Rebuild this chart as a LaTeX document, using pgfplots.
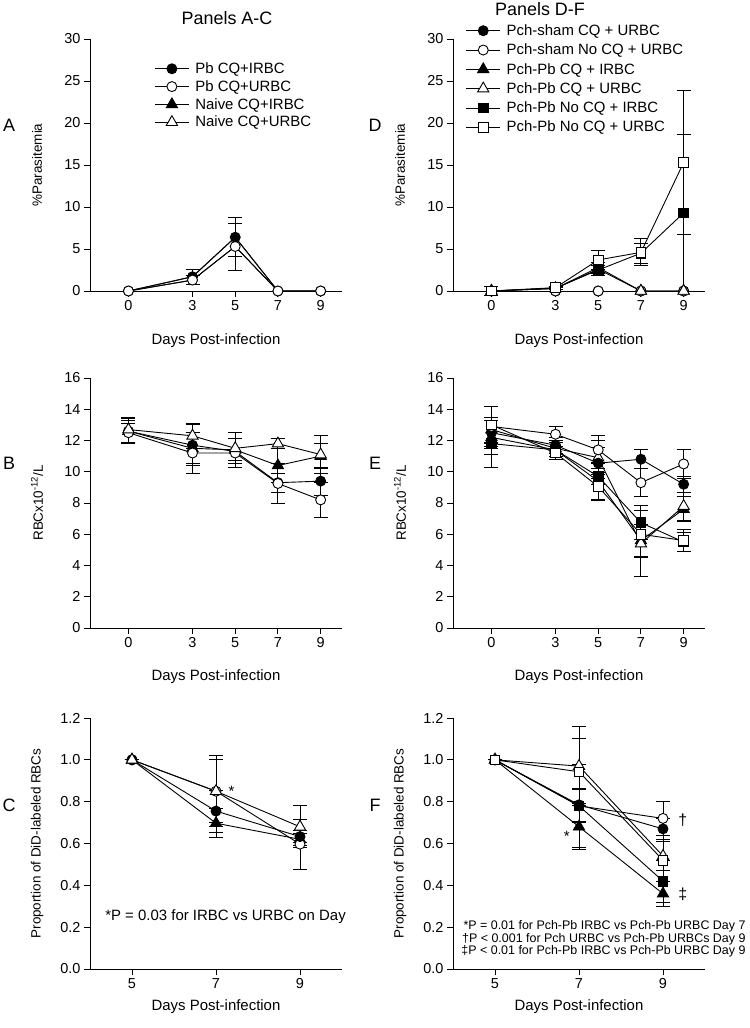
\documentclass[border=0pt]{standalone}
\usepackage{fontspec}
\setmainfont{Liberation Sans}
\usepackage{pgfplots}
\pgfplotsset{compat=1.18}
\newcommand{\fsz}[1]{\fontsize{#1}{#1}\selectfont}
\tikzset{
  fcirc/.style={black, line width=0.9bp, mark=*, mark size=5bp, mark options={solid, fill=black}},
  ocirc/.style={black, line width=0.9bp, mark=*, mark size=5bp, mark options={solid, fill=white}},
  ftri/.style={black, line width=0.9bp, mark=triangle*, mark size=6.5bp, mark options={solid, fill=black}},
  otri/.style={black, line width=0.9bp, mark=triangle*, mark size=6.5bp, mark options={solid, fill=white}},
  fsq/.style={black, line width=0.9bp, mark=square*, mark size=4.8bp, mark options={solid, fill=black}},
  osq/.style={black, line width=0.9bp, mark=square*, mark size=4.8bp, mark options={solid, fill=white}},
}
\pgfplotsset{
  panel/.style={
    scale only axis, width=252bp,
    axis lines=left,
    axis line style={-, line width=0.9bp},
    tick align=outside,
    major tick length=6bp,
    every tick/.style={black, line width=0.9bp},
    xticklabel style={font=\fsz{14.5}},
    yticklabel style={font=\fsz{14.5}},
    /pgf/number format/assume math mode=true,
    xticklabel={\pgfmathprintnumber{\tick}},
    yticklabel={\pgfmathprintnumber{\tick}},
    clip=false,
    error bars/y dir=both, error bars/y explicit,
    error bars/error bar style={line width=0.9bp, solid},
    error bars/error mark options={rotate=90, mark size=7bp, line width=0.9bp, solid},
    legend image code/.code={\draw[mark repeat=2,mark phase=2] plot coordinates {(0bp,0bp)(17bp,0bp)(34bp,0bp)};},
    legend cell align=left,
    xlabel={Days Post-infection},
    every axis x label/.style={at={(axis description cs:0.5,-0.195)}, anchor=center, font=\fsz{15}},
    every axis y label/.style={at={(axis description cs:-0.21,0.5)}, rotate=90, anchor=center, font=\fsz{13.5}},
  },
  toprow/.style={panel, height=252bp, xmin=-1.8, xmax=10, ymin=0, ymax=30, xtick={0,3,5,7,9}, ytick={0,5,...,30}, ylabel={\%Parasitemia}},
  midrow/.style={panel, height=250bp, xmin=-1.8, xmax=10, ymin=0, ymax=16, xtick={0,3,5,7,9}, ytick={0,2,...,16}, ylabel={RBCx10\textsuperscript{-12}/L}},
  botrow/.style={panel, height=251bp, xmin=4, xmax=10, ymin=0, ymax=1.2, xtick={5,7,9}, ytick={0,0.2,...,1.2},
     yticklabel style={/pgf/number format/.cd, fixed, fixed zerofill, precision=1},
     every axis x label/.style={at={(axis description cs:0.5,-0.151)}, anchor=center, font=\fsz{15}},
     ylabel={Proportion of DiD-labeled RBCs}},
}
\begin{document}
\begin{tikzpicture}
\path[use as bounding box] (0,0) rectangle (750bp,-1028bp);

% titles and panel letters
\node[font=\fsz{18}] at (227bp,-18bp) {Panels A-C};
\node[font=\fsz{18}] at (540bp,-9bp) {Panels D-F};
\node[font=\fsz{18}] at (9bp,-125bp) {A};
\node[font=\fsz{18}] at (9bp,-463bp) {B};
\node[font=\fsz{18}] at (9bp,-805bp) {C};
\node[font=\fsz{18}] at (375bp,-125bp) {D};
\node[font=\fsz{18}] at (375bp,-463bp) {E};
\node[font=\fsz{18}] at (375bp,-805bp) {F};

% ---------------- Panel A ----------------
\begin{axis}[toprow, at={(90bp,-291bp)}, anchor=south west,
  legend style={draw=none, fill=none, at={(axis description cs:0.255,0.915)}, anchor=north west,
    font=\fsz{15}, inner sep=0pt, row sep=1.5bp, column sep=4bp}]
\addlegendimage{fcirc}\addlegendentry{Pb CQ+IRBC}
\addlegendimage{ocirc}\addlegendentry{Pb CQ+URBC}
\addlegendimage{ftri}\addlegendentry{Naive CQ+IRBC}
\addlegendimage{otri}\addlegendentry{Naive CQ+URBC}
\addplot[ftri, mark size=3.5bp, forget plot] coordinates {(0,0) (3,1.7) (5,6.4) (7,0) (9,0)};
\addplot[otri, mark size=3.5bp, forget plot] coordinates {(0,0) (3,1.3) (5,5.3) (7,0) (9,0)};
\addplot[fcirc, forget plot] coordinates {(0,0) +- (0,0) (3,1.7) +- (0,0.9) (5,6.4) +- (0,2.3) (7,0) +- (0,0) (9,0) +- (0,0)};
\addplot[ocirc, forget plot] coordinates {(0,0) +- (0,0) (3,1.3) +- (0,0.5) (5,5.3) +- (0,2.8) (7,0) +- (0,0) (9,0) +- (0,0)};
\end{axis}

% ---------------- Panel D ----------------
\begin{axis}[toprow, at={(453bp,-291bp)}, anchor=south west,
  legend style={draw=none, fill=none, at={(axis description cs:0.05,1.066)}, anchor=north west,
    font=\fsz{15}, inner sep=0pt, row sep=3bp, column sep=4bp}]
\addlegendimage{fcirc}\addlegendentry{Pch-sham CQ + URBC}
\addlegendimage{ocirc}\addlegendentry{Pch-sham No CQ + URBC}
\addlegendimage{ftri}\addlegendentry{Pch-Pb CQ + IRBC}
\addlegendimage{otri}\addlegendentry{Pch-Pb CQ + URBC}
\addlegendimage{fsq}\addlegendentry{Pch-Pb No CQ + IRBC}
\addlegendimage{osq}\addlegendentry{Pch-Pb No CQ + URBC}
\addplot[fcirc, forget plot] coordinates {(0,0) (3,0) (5,0) (7,0) (9,0)};
\addplot[ocirc, forget plot] coordinates {(0,0) (3,0) (5,0) (7,0) (9,0)};
\addplot[ftri, forget plot] coordinates {(0,0) (3,0.3) +- (0,0.1) (5,2.6) +- (0,0.5) (7,0) (9,0)};
\addplot[otri, forget plot] coordinates {(0,0) (3,0.3) (5,2.8) +- (0,0.6) (7,0) (9,0)};
\addplot[fsq, forget plot] coordinates {(0,0) (3,0.35) +- (0,0.2) (5,2.5) +- (0,0.6) (7,4.5) +- (0,1.2) (9,9.3) +- (0,9.3)};
\addplot[osq, forget plot] coordinates {(0,0) +- (0,0.5) (3,0.4) +- (0,0.2) (5,3.7) +- (0,1.1) (7,4.6) +- (0,1.6) (9,15.3) +- (0,8.6)};
\end{axis}

% ---------------- Panel B ----------------
\begin{axis}[midrow, at={(90bp,-628bp)}, anchor=south west]
\addplot[fcirc] coordinates {(0,12.6) +- (0,0.8) (3,11.7) +- (0,1.3) (5,11.3) +- (0,0.8) (7,9.3) +- (0,0.6) (9,9.4) +- (0,0.9)};
\addplot[ftri] coordinates {(0,12.6) +- (0,0.7) (3,11.5) +- (0,1.0) (5,11.4) +- (0,0.7) (7,10.4) +- (0,1.1) (9,11.0) +- (0,0.8)};
\addplot[ocirc] coordinates {(0,12.5) +- (0,0.6) (3,11.2) +- (0,1.3) (5,11.2) +- (0,0.9) (7,9.25) +- (0,1.3) (9,8.2) +- (0,1.1)};
\addplot[otri] coordinates {(0,12.7) +- (0,0.8) (3,12.3) +- (0,0.8) (5,11.5) +- (0,1.0) (7,11.8) +- (0,0.3) (9,11.1) +- (0,1.2)};
\end{axis}

% ---------------- Panel E ----------------
\begin{axis}[midrow, at={(453bp,-628bp)}, anchor=south west]
\addplot[ftri] coordinates {(0,12.2) +- (0,1.1) (3,11.4) +- (0,0.6) (5,9.4) +- (0,1.2) (7,5.6) +- (0,1.0) (9,7.6) +- (0,0.8)};
\addplot[otri] coordinates {(0,12.7) +- (0,0.8) (3,11.5) +- (0,0.5) (5,10.9) +- (0,1.1) (7,5.4) +- (0,2.1) (9,7.8) +- (0,0.9)};
\addplot[fcirc] coordinates {(0,12.5) +- (0,1.0) (3,11.7) +- (0,0.5) (5,10.55) +- (0,1.0) (7,10.8) +- (0,0.6) (9,9.2) +- (0,0.5)};
\addplot[ocirc] coordinates {(0,12.9) +- (0,1.3) (3,12.4) +- (0,0.5) (5,11.4) +- (0,0.9) (7,9.3) +- (0,0.9) (9,10.5) +- (0,0.9)};
\addplot[fsq] coordinates {(0,11.8) +- (0,1.5) (3,11.4) +- (0,0.6) (5,9.7) +- (0,0.5) (7,6.74) +- (0,1.1) (9,5.5) +- (0,0.6)};
\addplot[osq] coordinates {(0,13.0) +- (0,1.2) (3,11.2) +- (0,0.4) (5,9.05) +- (0,0.9) (7,6.0) +- (0,1.5) (9,5.6) +- (0,0.7)};
\end{axis}

% ---------------- Panel C ----------------
\begin{axis}[botrow, at={(90bp,-969bp)}, anchor=south west]
\addplot[ftri] coordinates {(5,1.0) +- (0,0) (7,0.697) +- (0,0.07) (9,0.62) +- (0,0.03)};
\addplot[ocirc] coordinates {(5,1.0) +- (0,0) (7,0.85) +- (0,0.15) (9,0.597) +- (0,0.12)};
\addplot[fcirc] coordinates {(5,1.0) +- (0,0) (7,0.755) +- (0,0.1) (9,0.633) +- (0,0.03)};
\addplot[otri] coordinates {(5,1.0) +- (0,0) (7,0.85) +- (0,0.17) (9,0.68) +- (0,0.1)};
\node[font=\fsz{15}] at (axis cs:7.37,0.85) {*};
\node[font=\fsz{15}, anchor=west, inner sep=0pt] at (axis cs:4.36,0.25) {*P = 0.03 for IRBC vs URBC on Day};
\end{axis}

% ---------------- Panel F ----------------
\begin{axis}[botrow, at={(453bp,-969bp)}, anchor=south west]
\addplot[ocirc] coordinates {(5,1.0) +- (0,0) (7,0.78) +- (0,0.08) (9,0.72) +- (0,0.08)};
\addplot[fsq] coordinates {(5,1.0) +- (0,0) (7,0.78) +- (0,0.2) (9,0.42) +- (0,0.1)};
\addplot[fcirc] coordinates {(5,1.0) +- (0,0) (7,0.785) +- (0,0.08) (9,0.67) +- (0,0.05)};
\addplot[ftri] coordinates {(5,1.0) +- (0,0) (7,0.68) +- (0,0.11) (9,0.36) +- (0,0.06)};
\addplot[otri] coordinates {(5,1.0) +- (0,0) (7,0.97) +- (0,0.19) (9,0.54) +- (0,0.07)};
\addplot[osq] coordinates {(5,1.0) +- (0,0) (7,0.943) +- (0,0.16) (9,0.52) +- (0,0.1)};
\node[font=\fsz{15}] at (axis cs:6.71,0.635) {*};
\node[font=\fsz{16}] at (axis cs:9.47,0.71) {†};
\node[font=\fsz{16}] at (axis cs:9.47,0.355) {‡};
\node[font=\fsz{12.5}, anchor=east, inner sep=0pt] at (axis cs:10.97,0.202) {*P = 0.01 for Pch-Pb IRBC vs Pch-Pb URBC Day 7};
\node[font=\fsz{12.5}, anchor=east, inner sep=0pt] at (axis cs:10.97,0.143) {†P < 0.001 for Pch URBC vs Pch-Pb URBCs Day 9};
\node[font=\fsz{12.5}, anchor=east, inner sep=0pt] at (axis cs:10.97,0.086) {‡P < 0.01 for Pch-Pb IRBC vs Pch-Pb URBC Day 9};
\end{axis}
\end{tikzpicture}
\end{document}
